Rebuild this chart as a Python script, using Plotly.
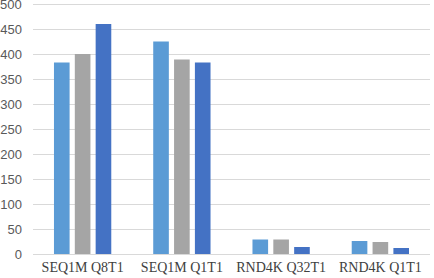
import plotly.graph_objects as go

categories = ["SEQ1M Q8T1", "SEQ1M Q1T1", "RND4K Q32T1", "RND4K Q1T1"]
series_a = [383, 425, 29, 26]
series_b = [400, 389, 29, 24]
series_c = [460, 383, 14, 12]
colors = ["#5B9BD5", "#A5A5A5", "#4472C4"]
y_ticks = [0, 50, 100, 150, 200, 250, 300, 350, 400, 450, 500]

fig = go.Figure()
for vals, col in zip([series_a, series_b, series_c], colors):
    fig.add_trace(go.Bar(x=categories, y=vals, marker_color=col, marker_line_width=0))

tick_font = dict(family="Liberation Sans", size=13, color="#595959")
fig.update_layout(
    width=434, height=278,
    margin=dict(l=33, r=4, t=0, b=24),
    paper_bgcolor="white", plot_bgcolor="white",
    barmode="group", bargap=0.37, bargroupgap=0.25,
    showlegend=False,
)
# top tick label drawn as annotation (plotly hides labels overflowing the figure edge)
fig.add_annotation(x=0, xref="paper", y=y_ticks[-1], yref="y", text=str(y_ticks[-1]),
                   showarrow=False, xanchor="right", yanchor="middle", xshift=-9,
                   font=tick_font)
fig.update_xaxes(showgrid=False, showline=True, linecolor="#D9D9D9", linewidth=1,
                 tickfont=dict(family="Liberation Serif", size=14, color="#404040"), ticks="",
                 ticklabelstandoff=0, automargin=False)
fig.update_yaxes(range=[0, 508], tickvals=y_ticks,
                 showgrid=True, gridcolor="#D9D9D9", gridwidth=1,
                 zeroline=False, tickfont=tick_font,
                 ticks="", ticklabelstandoff=10, automargin=False)
fig.write_html("out.html", config={"displayModeBar": False},
               post_script="document.body.style.margin='0';document.body.style.overflow='hidden';")
